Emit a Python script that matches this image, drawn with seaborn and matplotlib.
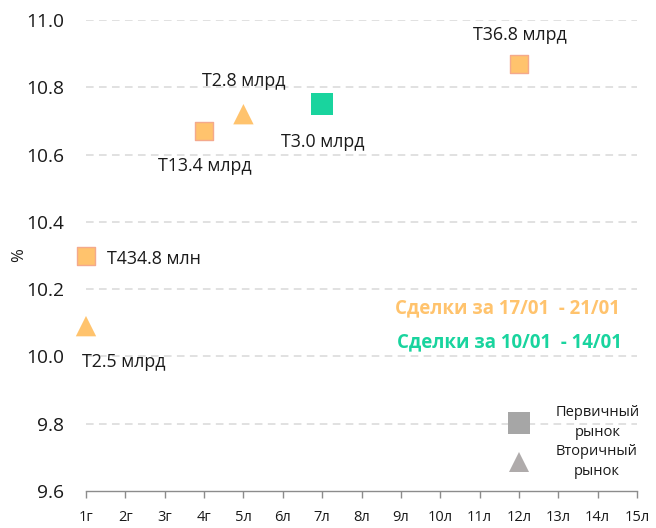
import matplotlib
matplotlib.use('Agg')
import matplotlib.pyplot as plt
import seaborn as sns
import pandas as pd
from matplotlib.lines import Line2D

# ---------------- data ----------------
tenor_labels = ['1г', '2г', '3г', '4г', '5л', '6л', '7л', '8л', '9л',
                '10л', '11л', '12л', '13л', '14л', '15л']
y_ticks = [9.6, 9.8, 10.0, 10.2, 10.4, 10.6, 10.8, 11.0]

deal_tenor = ['1г', '1г', '4г', '5л', '7л', '12л']
deal_yield = [10.30, 10.09, 10.67, 10.72, 10.75, 10.87]
deal_market = ['Первичный', 'Вторичный', 'Первичный', 'Вторичный', 'Первичный', 'Первичный']
deal_week = ['17/01 - 21/01', '17/01 - 21/01', '17/01 - 21/01',
             '17/01 - 21/01', '10/01 - 14/01', '17/01 - 21/01']
deal_volume = ['Т434.8 млн', 'Т2.5 млрд', 'Т13.4 млрд', 'Т2.8 млрд', 'Т3.0 млрд', 'Т36.8 млрд']

week_titles = ['Сделки за 17/01  - 21/01', 'Сделки за 10/01  - 14/01']
legend_labels = ['Первичный\nрынок', 'Вторичный\nрынок']

# ---------------- style ----------------
sns.set_theme(style='white')
plt.rcParams['font.family'] = ['Open Sans', 'DejaVu Sans']

ORANGE = '#FFC36D'
ORANGE_EDGE = '#F4A98C'
GREEN = '#19D49E'
TEXT = '#1a1a1a'

df = pd.DataFrame({
    'tenor': deal_tenor,
    'yield': deal_yield,
    'market': deal_market,
    'week': deal_week,
    'volume': deal_volume,
})
df['pos'] = [tenor_labels.index(t) for t in df['tenor']]

fig = plt.figure(figsize=(6.56, 5.28), dpi=100)
ax = fig.add_axes([86 / 656, 1 - 491 / 528, (637 - 86) / 656, (491 - 20) / 528])

# gridlines
for yv in y_ticks[1:]:
    ax.axhline(yv, color='#D9D9D9', lw=1.1, ls=(0, (5, 3.5)), zorder=0)

group_style = {
    ('17/01 - 21/01', 'Первичный'): dict(marker='s', s=150, color=ORANGE, edgecolor=ORANGE_EDGE, linewidth=1.0),
    ('17/01 - 21/01', 'Вторичный'): dict(marker='^', s=215, color=ORANGE, edgecolor='none', linewidth=0),
    ('10/01 - 14/01', 'Первичный'): dict(marker='s', s=265, color=GREEN, edgecolor='none', linewidth=0),
}
for (wk, mk), sub in df.groupby(['week', 'market']):
    sns.scatterplot(data=sub, x='pos', y='yield', ax=ax, legend=False,
                    zorder=3, clip_on=False, **group_style[(wk, mk)])

# data labels
label_offsets = [(21, -3, 'left'), (-4, -36, 'left'), (1, -35, 'center'),
                 (0, 33, 'center'), (1, -38, 'center'), (1, 29, 'center')]
for (_, row), (dx, dy, ha) in zip(df.iterrows(), label_offsets):
    ax.annotate(row['volume'], (row['pos'], row['yield']), xytext=(dx, dy),
                textcoords='offset pixels', ha=ha, va='center',
                fontsize=12.8, color=TEXT)

ax.set_xlim(0, len(tenor_labels) - 1)
ax.set_ylim(9.6, 11.0)
ax.set_xticks(range(len(tenor_labels)))
ax.set_xticklabels(tenor_labels, fontsize=10.5, color=TEXT)
ax.set_yticks(y_ticks)
ax.set_yticklabels([f'{v:.1f}' for v in y_ticks], fontsize=13.8, color=TEXT)
ax.tick_params(axis='x', length=5, width=1, color='#8C8C8C', pad=8.5, direction='out', bottom=True)
ax.tick_params(axis='y', length=0, pad=16)
ax.set_xlabel('')
ax.set_ylabel('%', fontsize=12, color=TEXT)
ax.yaxis.set_label_coords((27 - 86) / 551, (491 - 255) / 471)
for sp in ['top', 'right', 'left']:
    ax.spines[sp].set_visible(False)
ax.spines['bottom'].set_color('#8C8C8C')
ax.spines['bottom'].set_linewidth(1)

# week titles
fig.text(620 / 656, 1 - 308 / 528, week_titles[0], color=ORANGE, fontsize=13.4,
         fontweight='bold', ha='right', va='center')
fig.text(622 / 656, 1 - 342 / 528, week_titles[1], color=GREEN, fontsize=13.4,
         fontweight='bold', ha='right', va='center')

# market legend
handles = [Line2D([], [], marker='s', ls='none', markersize=16, color='#A6A6A6', markeredgewidth=0),
           Line2D([], [], marker='^', ls='none', markersize=15, color='#AFABAB', markeredgewidth=0)]
leg = ax.legend(handles, legend_labels, loc='upper left', frameon=False,
                bbox_to_anchor=(503 / 656, 1 - 397.5 / 528), bbox_transform=fig.transFigure,
                fontsize=10.5, handletextpad=1.9, labelspacing=0.28, borderpad=0,
                handlelength=1.2)
for t in leg.get_texts():
    t.set_multialignment('center')
    t.set_linespacing(1.45)
    t.set_color(TEXT)

fig.savefig('out.png', dpi=100)
